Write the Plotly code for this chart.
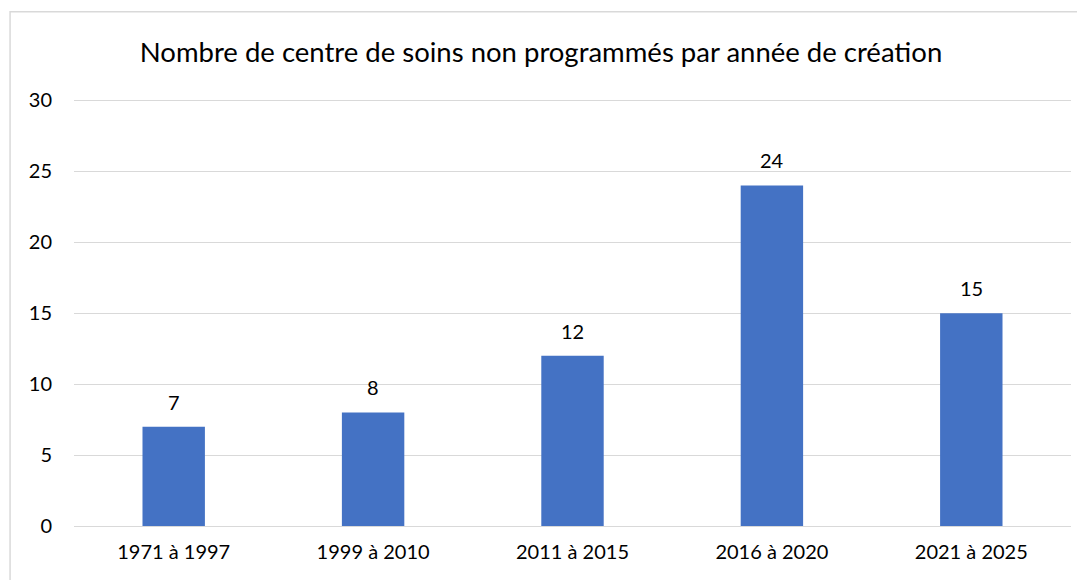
import plotly.graph_objects as go

categories = ["1971 à 1997", "1999 à 2010", "2011 à 2015", "2016 à 2020", "2021 à 2025"]
values = [7, 8, 12, 24, 15]
y_ticks = [0, 5, 10, 15, 20, 25, 30]

FONT = "Lato"
OFF = 8  # page body margin
YMAX = 30.3
W, H = 1085 - OFF, 580 - OFF
pw = 998
ph = 426 * YMAX / 30
L = 73.5 - OFF
T = 526 - ph - OFF
R = W - L - pw
B = H - T - ph

fig = go.Figure(go.Bar(
    x=categories, y=values,
    marker=dict(color="#4472C4", line=dict(width=0)),
    hoverinfo="x+y",
))

for c, v in zip(categories, values):
    fig.add_annotation(x=c, y=v, text=str(v), showarrow=False, yanchor="middle",
                       yshift=25, font=dict(family=FONT, size=20, color="#000000"))

fig.update_layout(
    width=W, height=H,
    margin=dict(l=L, r=R, t=T, b=B),
    paper_bgcolor="white", plot_bgcolor="white",
    bargap=0.687,
    showlegend=False,
    title=dict(text="Nombre de centre de soins non programmés par année de création",
               x=(541 - OFF) / W, xanchor="center", y=1 - (52 - OFF) / H, yanchor="middle",
               font=dict(family=FONT, size=27.5, color="#000000")),
    font=dict(family=FONT, color="#000000"),
    xaxis=dict(showgrid=False, showline=False, ticks="", ticklabelstandoff=12,
               tickfont=dict(family=FONT, size=20, color="#000000")),
    yaxis=dict(range=[0, YMAX], tickvals=y_ticks, showgrid=True, gridcolor="#d9d9d9",
               gridwidth=1.3, zeroline=True, zerolinecolor="#d9d9d9", zerolinewidth=1.3,
               showline=False, ticks="", ticklabelstandoff=21,
               tickfont=dict(family=FONT, size=20, color="#000000")),
)

fig.add_shape(type="rect", xref="paper", yref="paper",
              x0=(9.5 - OFF - L) / pw, x1=1.05, y0=-0.3, y1=1 + (T - (11.5 - OFF)) / ph,
              line=dict(color="#d9d9d9", width=1.5), fillcolor="rgba(0,0,0,0)", layer="below")

fig.write_html("out.html")
